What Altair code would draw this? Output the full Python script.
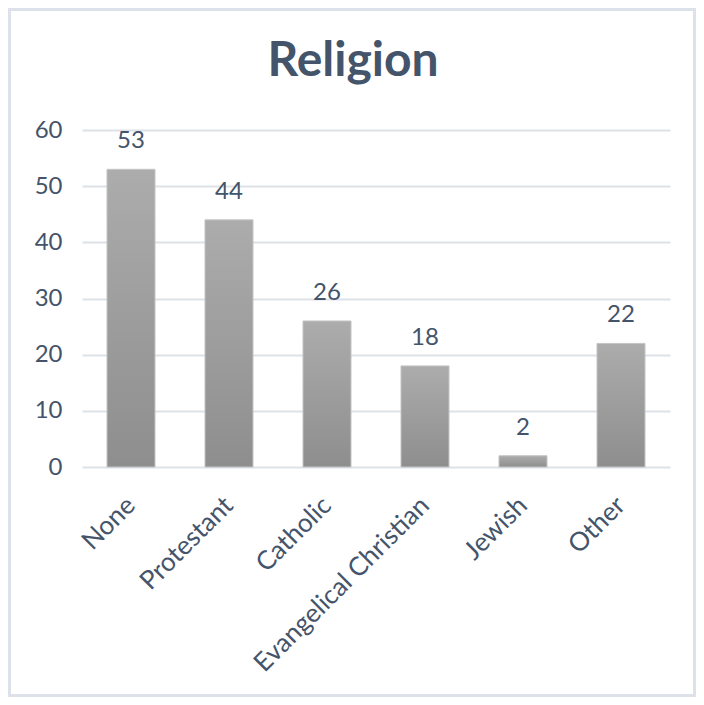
import altair as alt
import pandas as pd

categories = ["None", "Protestant", "Catholic", "Evangelical Christian", "Jewish", "Other"]
values = [53, 44, 26, 18, 2, 22]
y_ticks = [0, 10, 20, 30, 40, 50, 60]
title_text = "Religion"

df = pd.DataFrame({"religion": categories, "count": values})

TXT = "#44546A"
FONT = "Lato"

W, H = 588, 337
PL, PT, PR, PB = 74, 122, 26, 230

x = alt.X("religion:N", sort=categories, title=None,
          scale=alt.Scale(paddingInner=0.51, paddingOuter=0.255),
          axis=alt.Axis(labelAngle=-45, labelAlign="right", labelBaseline="middle",
                        labelPadding=34, ticks=False, domain=False, labelLimit=400,
                        labelFontSize=26, labelColor=TXT, labelFont=FONT))
y = alt.Y("count:Q", title=None,
          scale=alt.Scale(domain=[0, 60], nice=False),
          axis=alt.Axis(values=y_ticks, ticks=False, domain=False, labelPadding=20,
                        labelFontSize=24, labelColor=TXT, labelFont=FONT,
                        gridColor="#dde2e8", gridWidth=2))

base = alt.Chart(df)

bars = base.mark_bar(
    color=alt.Gradient(gradient="linear", x1=0, y1=0, x2=0, y2=1,
                       stops=[alt.GradientStop(offset=0, color="#acacac"),
                              alt.GradientStop(offset=1, color="#8e8e8e")]),
    stroke="#c4c4c4", strokeWidth=1
).encode(x=x, y=y)

labels = base.mark_text(baseline="middle", dy=-28, fontSize=24, font=FONT, color=TXT).encode(
    x=alt.X("religion:N", sort=categories), y="count:Q", text="count:Q")

one = pd.DataFrame({"t": [title_text]})

title = alt.Chart(one).mark_text(
    fontSize=48, font=FONT, fontWeight="bold", color=TXT, align="center", baseline="middle"
).encode(text="t:N", x=alt.value(W / 2 - 23), y=alt.value(-68))

frame = alt.Chart(one).mark_rect(
    fill=None, stroke="#dde2ea", strokeWidth=3
).encode(x=alt.value(-PL + 1.5), x2=alt.value(W + PR - 1.5),
         y=alt.value(-PT + 1.5), y2=alt.value(H + PB - 1.5))

chart = alt.layer(bars, labels, title, frame).properties(
    width=W, height=H,
    autosize=alt.AutoSizeParams(type="none"),
    padding={"left": PL, "top": PT, "right": PR, "bottom": PB},
).configure_view(stroke=None)

chart.save("out.html", embed_options={"renderer": "svg", "actions": False})
